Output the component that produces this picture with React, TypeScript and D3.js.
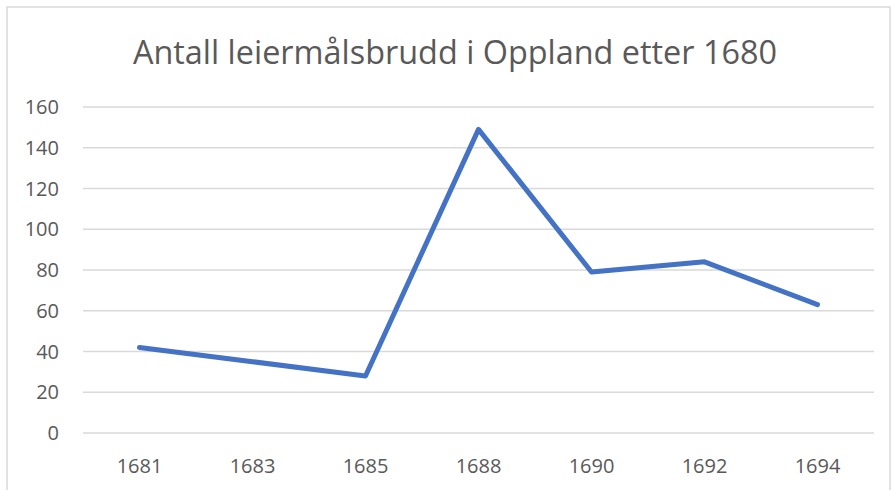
import React from "react";
import * as d3 from "d3";

const categories = ["1681", "1683", "1685", "1688", "1690", "1692", "1694"];
const values = [42, 35, 28, 149, 79, 84, 63];
const yTicks = [0, 20, 40, 60, 80, 100, 120, 140, 160];
const title = "Antall leiermålsbrudd i Oppland etter 1680";

export default function App() {
  const W = 891, H = 490;
  const left = 83, right = 874, top = 107, bottom = 433;
  const x = d3.scaleBand<string>().domain(categories).range([left, right]);
  const y = d3.scaleLinear().domain([0, 160]).range([bottom, top]);
  const line = d3
    .line<number>()
    .x((_, i) => (x(categories[i]) as number) + x.bandwidth() / 2)
    .y((d) => y(d));
  const font = "Open Sans, Noto Sans, sans-serif";
  return (
    <svg
      width={W}
      height={H}
      style={{ position: "absolute", left: 0, top: 0, background: "#fff" }}
    >
      <rect x={7} y={7} width={883} height={490} fill="#fff" stroke="#d9d9d9" strokeWidth={1.5} />
      <text x={455} y={64} textAnchor="middle" fontFamily={font} fontSize={32.4} fill="#595959">
        {title}
      </text>
      {yTicks.map((t) => (
        <g key={t}>
          <line x1={left} x2={right} y1={y(t)} y2={y(t)} stroke="#d9d9d9" strokeWidth={1.5} />
          <text x={59} y={y(t)} dy="0.36em" textAnchor="end" fontFamily={font} fontSize={20} fill="#595959">
            {t}
          </text>
        </g>
      ))}
      {categories.map((c) => (
        <text key={c} x={(x(c) as number) + x.bandwidth() / 2} y={473} textAnchor="middle" fontFamily={font} fontSize={20} fill="#595959">
          {c}
        </text>
      ))}
      <path d={line(values) || ""} fill="none" stroke="#4472C4" strokeWidth={5} strokeLinejoin="round" strokeLinecap="round" />
    </svg>
  );
}
